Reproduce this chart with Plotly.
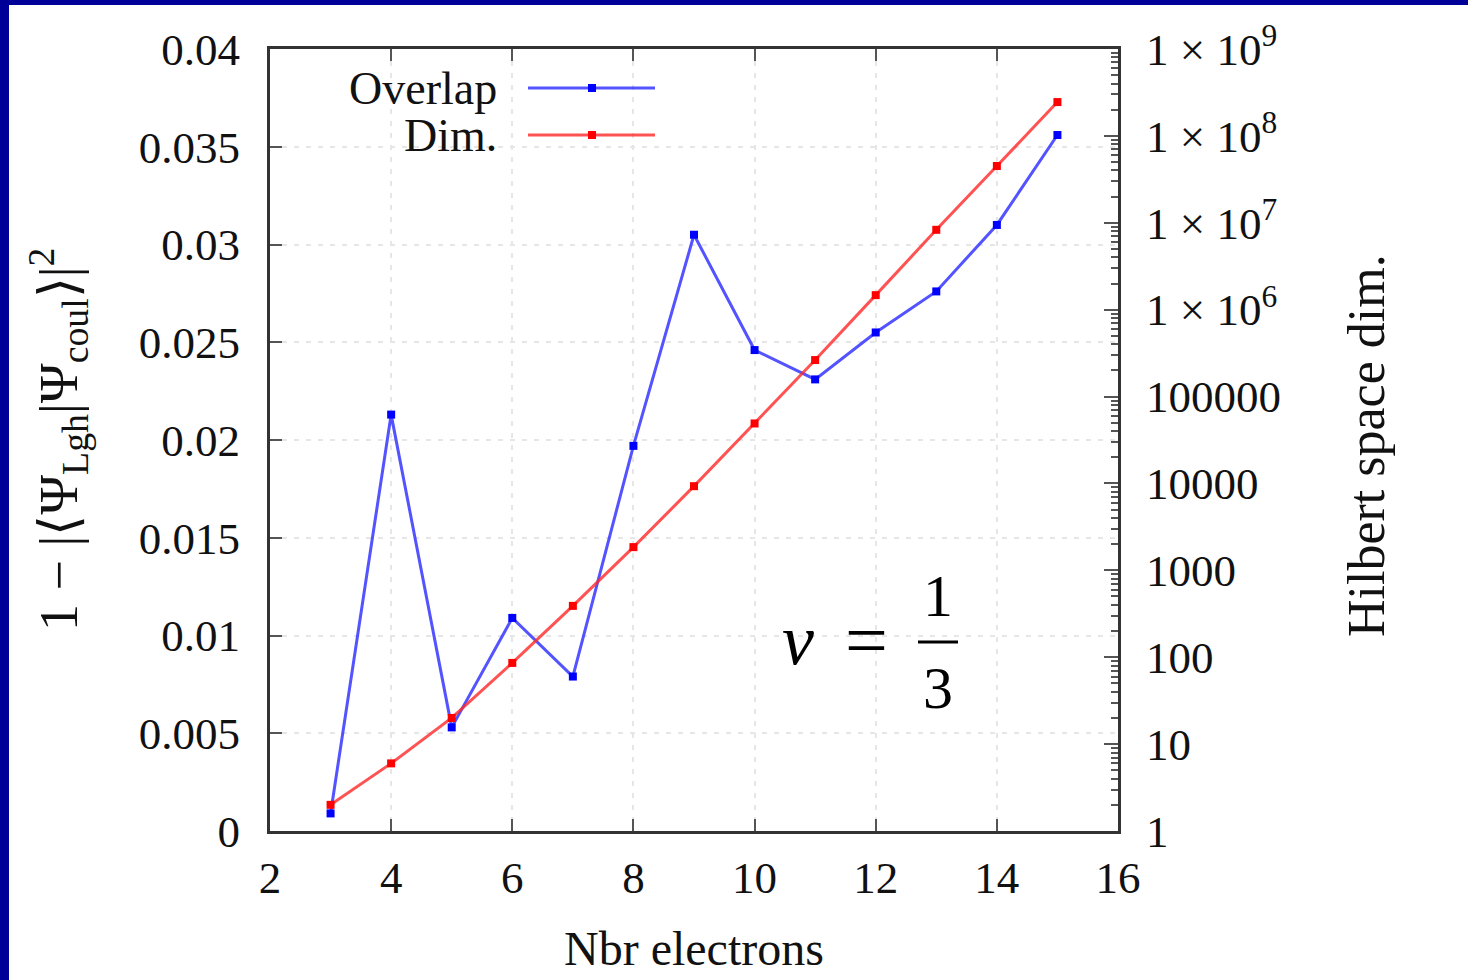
import plotly.graph_objects as go

# ---- data ----
electrons = [3, 4, 5, 6, 7, 8, 9, 10, 11, 12, 13, 14, 15]
overlap = [0.0009, 0.0213, 0.0053, 0.0109, 0.0079, 0.0197, 0.0305,
           0.0246, 0.0231, 0.0255, 0.0276, 0.0310, 0.0356]
hilbert_dim = [2, 6, 20, 86, 390, 1850, 9300, 49000, 263000,
               1.47e6, 8.3e6, 4.5e7, 2.45e8]

x_ticks = [2, 4, 6, 8, 10, 12, 14, 16]
y_ticks = [0, 0.005, 0.01, 0.015, 0.02, 0.025, 0.03, 0.035, 0.04]
y_ticktext = ["0", "0.005", "0.01", "0.015", "0.02", "0.025", "0.03", "0.035", "0.04"]
y2_ticks = [1, 10, 100, 1000, 1e4, 1e5, 1e6, 1e7, 1e8, 1e9]
y2_ticktext = ["1", "10", "100", "1000", "10000", "100000",
               "1 × 10<sup>6</sup>", "1 × 10<sup>7</sup>",
               "1 × 10<sup>8</sup>", "1 × 10<sup>9</sup>"]
y2_minor = [k * 10 ** d for d in range(9) for k in range(2, 10)]

# ---- layout geometry (pixels) ----
W, H = 1468, 980
L, R, T, B = 270, 1118, 49, 831


def px(x):
    return (x - L) / (R - L)


def py(y):
    return (B - y) / (B - T)


FONT = "Liberation Serif"
BLUE_LINE = "rgba(40,40,255,0.8)"
RED_LINE = "rgba(255,40,40,0.8)"

fig = go.Figure()
fig.add_trace(go.Scatter(
    x=electrons, y=overlap, name="Overlap", mode="lines+markers",
    line=dict(color=BLUE_LINE, width=3),
    marker=dict(color="#0000ff", size=8, symbol="square"),
    yaxis="y", showlegend=False,
))
fig.add_trace(go.Scatter(
    x=electrons, y=hilbert_dim, name="Dim.", mode="lines+markers",
    line=dict(color=RED_LINE, width=3),
    marker=dict(color="#ff0000", size=8, symbol="square"),
    yaxis="y2", showlegend=False,
))

axis_common = dict(
    showline=True, linecolor="#333333", linewidth=3,
    ticks="inside", tickcolor="#555555", tickwidth=2,
    tickfont=dict(family=FONT, size=45, color="#111111"),
    zeroline=False,
)

fig.update_layout(
    width=W, height=H,
    margin=dict(l=L, r=W - R, t=T, b=H - B, autoexpand=False),
    paper_bgcolor="white", plot_bgcolor="white",
    font=dict(family=FONT, size=46, color="black"),
    xaxis=dict(
        range=[2, 16], tickvals=x_ticks, ticklen=12, mirror="ticks",
        showgrid=True, gridcolor="#e6e6e6", gridwidth=2, griddash="5px,7px",
        ticklabelstandoff=5,
        **axis_common,
    ),
    yaxis=dict(
        range=[0, 0.04], tickvals=y_ticks, ticktext=y_ticktext, ticklen=12,
        showgrid=True, gridcolor="#e6e6e6", gridwidth=2, griddash="5px,7px",
        ticklabelstandoff=18,
        **axis_common,
    ),
    yaxis2=dict(
        type="log", range=[0, 9], overlaying="y", side="right",
        tickvals=y2_ticks, ticktext=y2_ticktext, ticklen=14,
        minor=dict(tickvals=y2_minor, ticks="inside", ticklen=7,
                   tickcolor="#555555", tickwidth=2, showgrid=False),
        showgrid=False, ticklabelstandoff=16,
        **axis_common,
    ),
)

shapes = []
# blue frame of the picture (left and top)
shapes.append(dict(type="rect", xref="paper", yref="paper",
                   x0=px(0), x1=px(9), y0=py(H), y1=py(0),
                   fillcolor="#000099", line=dict(width=0), layer="above"))
shapes.append(dict(type="rect", xref="paper", yref="paper",
                   x0=px(0), x1=px(W), y0=py(5), y1=py(0),
                   fillcolor="#000099", line=dict(width=0), layer="above"))

# manual legend (samples to the right of the text, as in the reference)
legend_items = [("Overlap", 88, BLUE_LINE, "#0000ff"),
                ("Dim.", 135, RED_LINE, "#ff0000")]
annotations = []
for label, yy, lc, mc in legend_items:
    shapes.append(dict(type="line", xref="paper", yref="paper",
                       x0=px(528), x1=px(655), y0=py(yy), y1=py(yy),
                       line=dict(color=lc, width=3)))
    shapes.append(dict(type="rect", xref="paper", yref="paper",
                       x0=px(588), x1=px(596), y0=py(yy + 4), y1=py(yy - 4),
                       fillcolor=mc, line=dict(width=0)))
    annotations.append(dict(text=label, xref="paper", yref="paper",
                            x=px(499), y=py(yy), xanchor="right", yanchor="middle",
                            showarrow=False,
                            font=dict(family=FONT, size=46, color="#111111")))

# nu = 1/3
annotations.append(dict(text="<i>ν</i>", xref="paper", yref="paper",
                        x=px(798), y=py(640), xanchor="center", yanchor="middle",
                        showarrow=False,
                        font=dict(family=FONT, size=72, color="black")))
annotations.append(dict(text="=", xref="paper", yref="paper",
                        x=px(866), y=py(640), xanchor="center", yanchor="middle",
                        showarrow=False,
                        font=dict(family=FONT, size=76, color="black")))
annotations.append(dict(text="1", xref="paper", yref="paper",
                        x=px(938), y=py(596), xanchor="center", yanchor="middle",
                        showarrow=False,
                        font=dict(family=FONT, size=60, color="black")))
annotations.append(dict(text="3", xref="paper", yref="paper",
                        x=px(938), y=py(688), xanchor="center", yanchor="middle",
                        showarrow=False,
                        font=dict(family=FONT, size=60, color="black")))
shapes.append(dict(type="line", xref="paper", yref="paper",
                   x0=px(918), x1=px(958), y0=py(642), y1=py(642),
                   line=dict(color="black", width=3)))

# axis titles
annotations.append(dict(text="Nbr electrons", xref="paper", yref="paper",
                        x=px(694), y=py(948), xanchor="center", yanchor="middle",
                        showarrow=False,
                        font=dict(family=FONT, size=48, color="#111111")))
annotations.append(dict(
    text="1 − |⟨Ψ<sub>Lgh</sub>|Ψ<sub>coul</sub>⟩|<sup>2</sup>",
    xref="paper", yref="paper", x=px(58), y=py(440), textangle=-90,
    xanchor="center", yanchor="middle", showarrow=False,
    font=dict(family=FONT, size=54, color="#111111")))
annotations.append(dict(text="Hilbert space dim.", xref="paper", yref="paper",
                        x=px(1366), y=py(446), textangle=-90,
                        xanchor="center", yanchor="middle", showarrow=False,
                        font=dict(family=FONT, size=52, color="#111111")))

fig.update_layout(shapes=shapes, annotations=annotations)

fig.write_html(
    "out.html",
    config={"displayModeBar": False},
    post_script="document.body.style.margin='0';document.body.style.overflow='hidden';",
)
